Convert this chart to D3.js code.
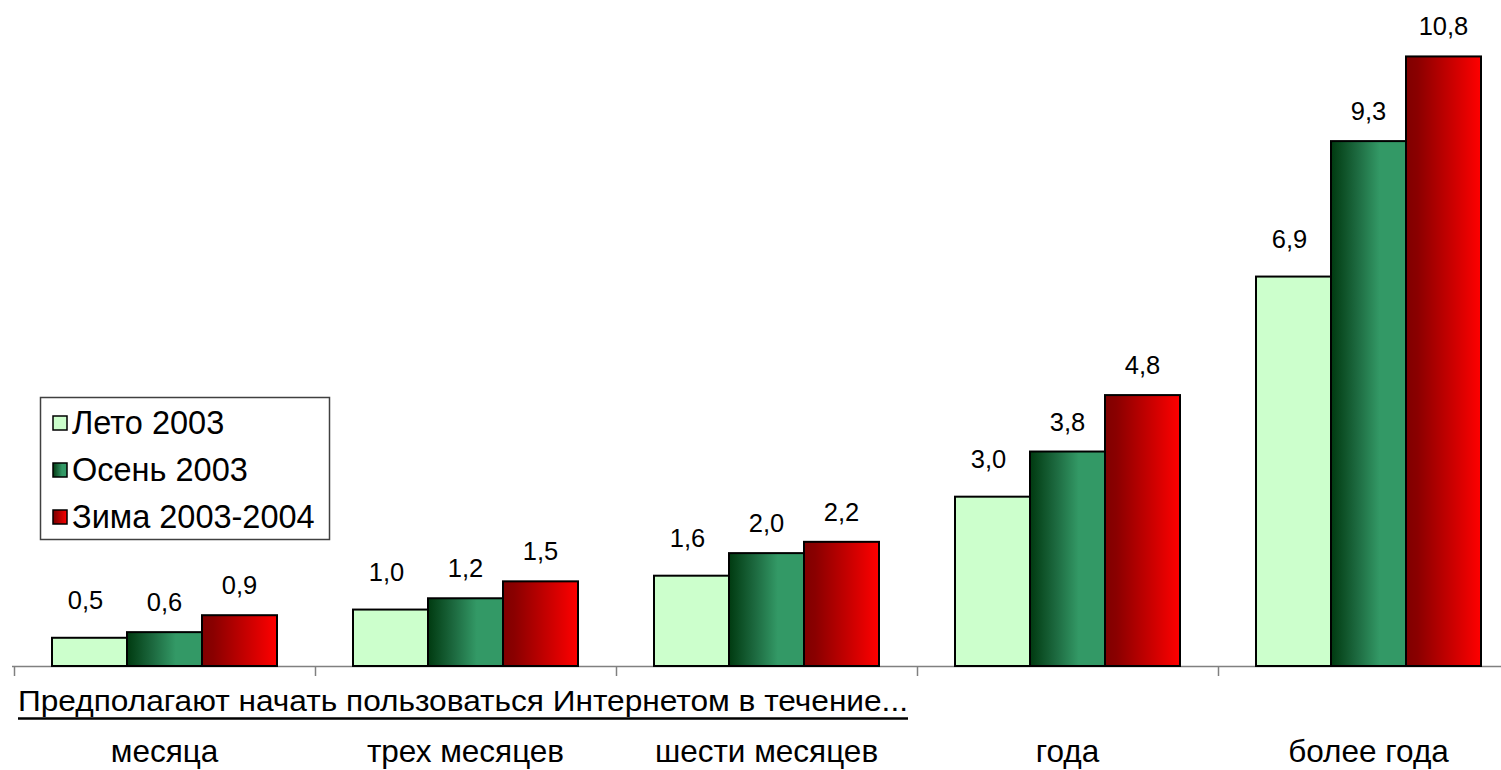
<!DOCTYPE html>
<html><head><meta charset="utf-8">
<script src="https://cdn.jsdelivr.net/npm/d3@7/dist/d3.min.js"></script>
<style>html,body{margin:0;padding:0;background:#fff;}svg{display:block;font-family:"Liberation Sans",Arial,sans-serif;}</style>
</head><body>
<svg id="chart" width="1501" height="770"></svg>
<script>
const categories = ["месяца", "трех месяцев", "шести месяцев", "года", "более года"];
const seriesNames = ["Лето 2003", "Осень 2003", "Зима 2003-2004"];
const summer2003 = [0.5, 1.0, 1.6, 3.0, 6.9];
const autumn2003 = [0.6, 1.2, 2.0, 3.8, 9.3];
const winter2003_2004 = [0.9, 1.5, 2.2, 4.8, 10.8];
const axisTitle = "Предполагают начать пользоваться Интернетом в течение...";

const seriesValues = [summer2003, autumn2003, winter2003_2004];
const svg = d3.select("#chart");
const defs = svg.append("defs");

const g1 = defs.append("linearGradient").attr("id","gGreen").attr("x1","0").attr("x2","1").attr("y1","0").attr("y2","0");
[["0%","#003a10"],["35%","#1d6a40"],["65%","#339966"],["100%","#339966"]].forEach(s=>g1.append("stop").attr("offset",s[0]).attr("stop-color",s[1]));
const g2 = defs.append("linearGradient").attr("id","gRed").attr("x1","0").attr("x2","1").attr("y1","0").attr("y2","0");
[["0%","#800000"],["15%","#8a0000"],["100%","#ff0000"]].forEach(s=>g2.append("stop").attr("offset",s[0]).attr("stop-color",s[1]));
const fills = ["#ccffcc","url(#gGreen)","url(#gRed)"];

const baseY = 666;
const x0 = d3.scaleBand().domain(categories).range([14, 1519]).paddingInner(0).paddingOuter(0);
const groupW = 225;
const x1 = d3.scaleBand().domain(d3.range(seriesNames.length)).range([0, groupW]);
const y = d3.scaleLinear().domain([0, 11.8]).range([baseY, 0]);

// axis
const axis = d3.axisBottom(x0).tickSize(0).tickFormat("");
const axG = svg.append("g").attr("transform",`translate(0,${baseY})`).call(axis);
axG.select(".domain").remove();
svg.append("line").attr("x1",12).attr("x2",1501).attr("y1",baseY+0.5).attr("y2",baseY+0.5).attr("stroke","#808080").attr("stroke-width",1.5);
const bounds = categories.map(c=>x0(c));
svg.selectAll("line.tick").data(bounds).enter().append("line").attr("class","tick")
  .attr("x1",d=>Math.round(d)+0.5).attr("x2",d=>Math.round(d)+0.5).attr("y1",baseY).attr("y2",baseY+10)
  .attr("stroke","#808080").attr("stroke-width",1.5);

const off = (x0.bandwidth()-groupW)/2;
const labelLift = [29, 21, 21];
const labelDx = [-4, 0, 0];
const fmt = v => v.toFixed(1).replace(".", ",");

seriesValues.forEach((vals, si) => {
  const gs = svg.append("g");
  gs.selectAll("rect").data(vals).enter().append("rect")
    .attr("x",(d,i)=>x0(categories[i])+off+x1(si))
    .attr("y",d=>y(d))
    .attr("width",x1.bandwidth())
    .attr("height",d=>baseY-y(d))
    .attr("fill",fills[si]).attr("stroke","#000").attr("stroke-width",2);
  gs.selectAll("text").data(vals).enter().append("text")
    .attr("x",(d,i)=>x0(categories[i])+off+x1(si)+x1.bandwidth()/2+labelDx[si])
    .attr("y",d=>y(d)-labelLift[si])
    .attr("text-anchor","middle").attr("font-size",25.5).attr("fill","#000")
    .text(fmt);
});

// category labels
svg.selectAll("text.cat").data(categories).enter().append("text").attr("class","cat")
  .attr("x",d=>x0(d)+x0.bandwidth()/2).attr("y",762)
  .attr("text-anchor","middle").attr("font-size",31.5).attr("fill","#000").text(d=>d);

// axis title with thick underline
svg.append("text").attr("x",18).attr("y",711).attr("font-size",29).attr("fill","#000")
  .attr("textLength",890).attr("lengthAdjust","spacingAndGlyphs")
  .text(axisTitle);
svg.append("line").attr("x1",18).attr("x2",908).attr("y1",718.5).attr("y2",718.5)
  .attr("stroke","#000").attr("stroke-width",2.5);

// legend
const lg = svg.append("g");
lg.append("rect").attr("x",40.5).attr("y",397.5).attr("width",289).attr("height",142).attr("fill","#fff").attr("stroke","#404040").attr("stroke-width",1.5);
seriesNames.forEach((n,i)=>{
  const cy = 423 + i*47;
  lg.append("rect").attr("x",53).attr("y",cy-7).attr("width",14).attr("height",14).attr("fill",fills[i]).attr("stroke","#000").attr("stroke-width",1.5);
  lg.append("text").attr("x",72).attr("y",cy+11).attr("font-size",32.5).attr("fill","#000").text(n);
});
</script>
</body></html>
